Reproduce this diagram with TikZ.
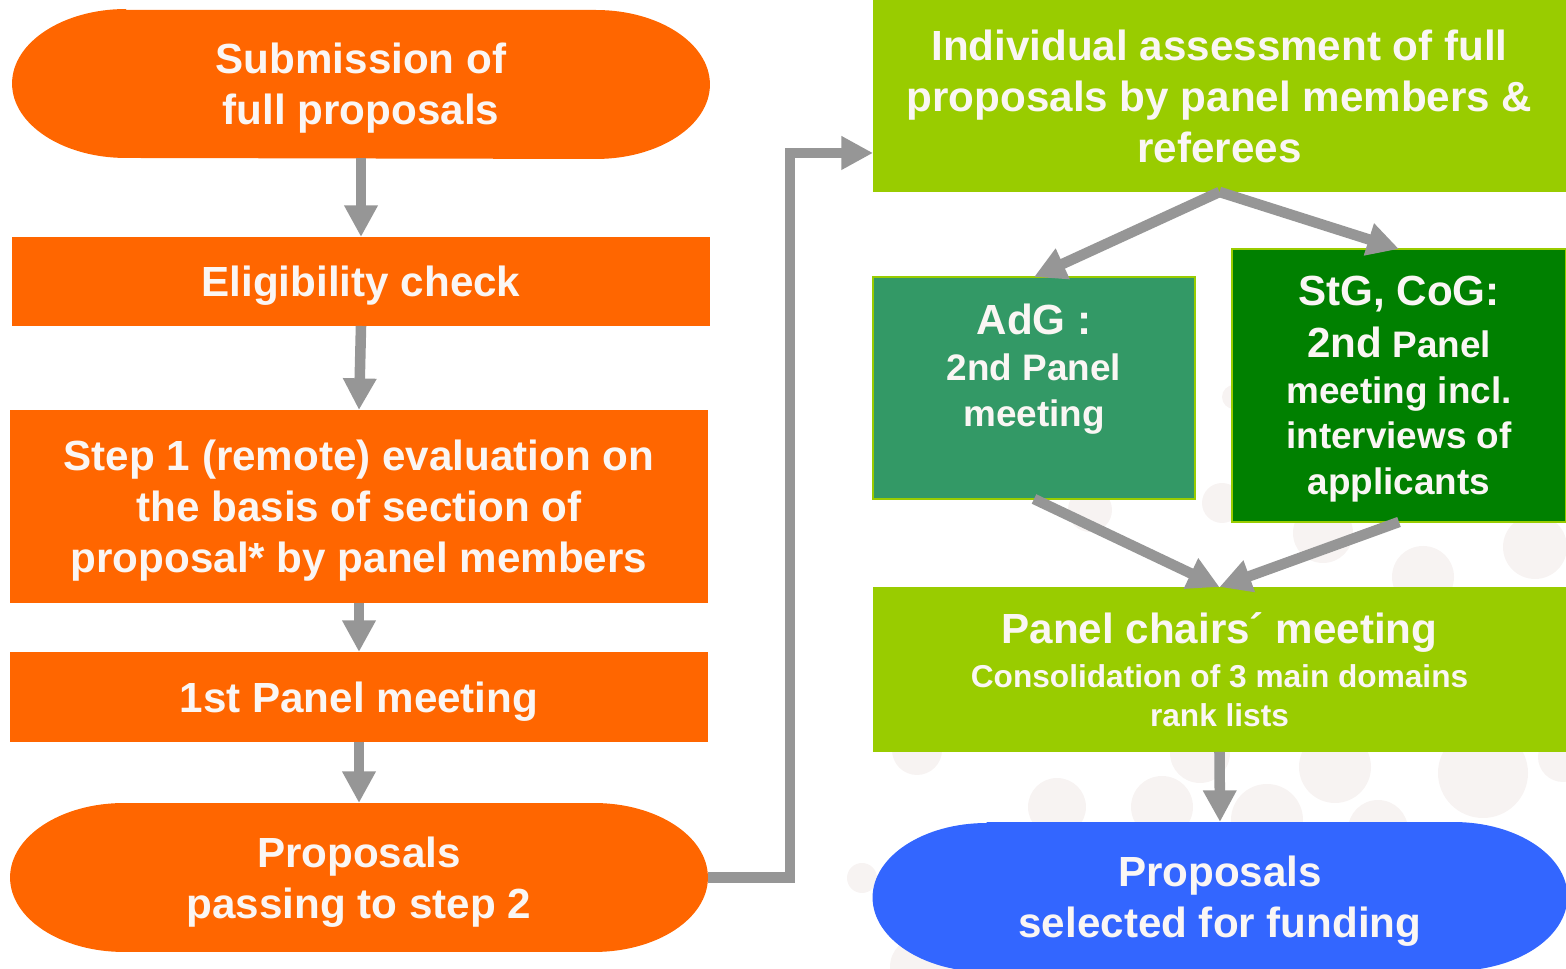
\documentclass[tikz,border=0pt]{standalone}
\usepackage{fontspec}
\setmainfont{Liberation Sans}
\usetikzlibrary{arrows.meta,backgrounds}

\definecolor{ercorange}{RGB}{255,102,0}
\definecolor{limegreen}{RGB}{153,204,0}
\definecolor{adgteal}{RGB}{51,153,102}
\definecolor{stggreen}{RGB}{0,128,0}
\definecolor{fundblue}{RGB}{51,102,255}
\definecolor{arrowgrey}{RGB}{150,150,150}
\definecolor{txtwhite}{RGB}{250,246,244}
\definecolor{dotgrey}{RGB}{247,243,242}

\newcommand\bigtxt{\fontsize{24}{29}\selectfont\bfseries}
\newcommand\midtxt{\fontsize{21}{26}\selectfont\bfseries}
\newcommand\smalltxt{\fontsize{18}{22}\selectfont\bfseries}

\newcommand\pillfill[2]{%
  \fill[#2] ([xshift=2.28cm]#1.north west) -- ([xshift=-2.28cm]#1.north east)
    arc[start angle=90, end angle=-90, x radius=2.28cm, y radius=1.49cm]
    -- ([xshift=2.28cm]#1.south west)
    arc[start angle=270, end angle=90, x radius=2.28cm, y radius=1.49cm] -- cycle;}

\tikzset{
  stage/.style={text=txtwhite, font=\bigtxt, align=center, inner sep=0pt, outer sep=0pt, text depth=-2pt, minimum width=13.96cm},
  panel/.style={text=txtwhite, align=center, inner sep=0pt, outer sep=0pt, text depth=-2pt, draw=limegreen, line width=1pt},
  flow/.style={draw=arrowgrey, line width=6pt, -{Triangle[length=18pt,width=18pt]}},
  dot/.style={fill=dotgrey}
}

\begin{document}
\begin{tikzpicture}[x=0.02cm, y=0.02cm]
  \useasboundingbox (0,0) rectangle (1566,969);

  \node [stage, minimum height=2.96cm] (submit) at (361,885) {Submission of\\full proposals};
  \node [stage, fill=ercorange, minimum height=1.78cm] (elig) at (361,687.5) {Eligibility check};
  \node [stage, fill=ercorange, minimum height=3.86cm] (step) at (359,462.5) {Step 1 (remote) evaluation on\\the basis of section of\\proposal* by panel members};
  \node [stage, fill=ercorange, minimum height=1.8cm] (first) at (359,272) {1st Panel meeting};
  \node [stage, minimum height=2.98cm] (passing) at (359,91.5) {Proposals\\passing to step 2};

  \node [stage, fill=limegreen, minimum width=13.86cm, minimum height=3.84cm] (indiv) at (1219.5,873) {Individual assessment of full\\proposals by panel members \&\\referees};
  \node [panel, fill=adgteal, font=\midtxt, minimum width=6.44cm, minimum height=4.44cm] (adg) at (1034,581) {{\bigtxt AdG :}\\2nd Panel\\meeting\\\mbox{}};
  \node [panel, fill=stggreen, font=\midtxt, minimum width=6.68cm, minimum height=5.46cm] (stg) at (1399,583.5) {{\bigtxt StG, CoG:}\\[3.4pt]{\bigtxt 2nd} Panel\\meeting incl.\\interviews of\\applicants};
  \node [stage, fill=limegreen, font=\smalltxt, minimum width=13.86cm, minimum height=3.3cm] (chairs) at (1219.5,299.5) {{\bigtxt Panel chairs´ meeting}\\[2.8pt]Consolidation of 3 main domains\\rank lists};
  \node [stage, minimum width=13.9cm, minimum height=3cm] (funded) at (1220,72) {Proposals\\selected for funding};

  \begin{scope}[on background layer]
    \foreach \x/\y/\r in {1090/459/22, 1222/466/20, 1234/572/12, 1323/436/30, 1535/422/32, 1423/392/31, 1335/202/36, 1483/196/45, 1267/149/36, 1378/139/30, 1057/162/29, 1162/162/31, 862/91/15, 917/219/25, 1200/216/30, 920/2/30, 1563/212/25}
      \fill [dot] (\x,\y) circle [radius=\r];
    \pillfill{submit}{ercorange}
    \pillfill{passing}{ercorange}
    \pillfill{funded}{fundblue}
  \end{scope}

  \draw [flow] (submit.south) -- (elig.north);
  \draw [flow] (elig.south) -- (step.north);
  \draw [flow] (step.south) -- (first.north);
  \draw [flow] (first.south) -- (passing.north);
  \draw [flow] (passing.east) -- ++(82,0) |- ([yshift=-1.14cm]indiv.west);
  \draw [flow] (indiv.south) -- (adg.north);
  \draw [flow] (indiv.south) -- (stg.north);
  \draw [flow] (adg.south) -- (chairs.north);
  \draw [flow] (stg.south) -- (chairs.north);
  \draw [flow] (chairs.south) -- (funded.north);
\end{tikzpicture}
\end{document}
